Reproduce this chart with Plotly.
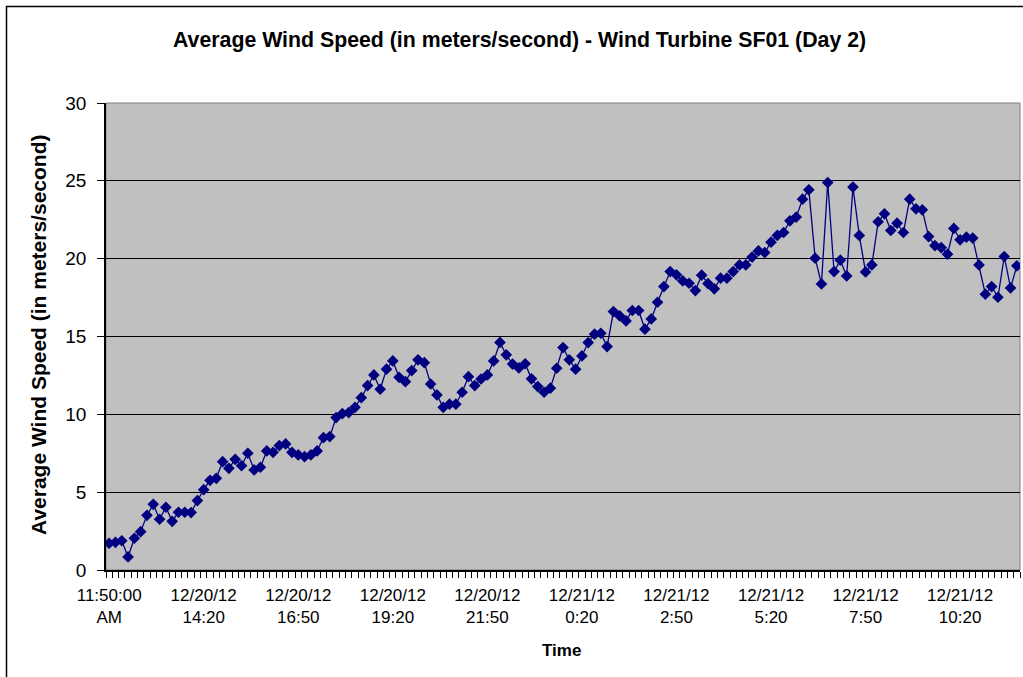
import plotly.graph_objects as go
from datetime import datetime, timedelta

# ---- data ----
start_time = datetime(2012, 12, 20, 11, 50)
n_points = 145
times = [(start_time + timedelta(minutes=10 * i)).strftime("%m/%d/%y %H:%M") for i in range(n_points)]

wind_speed = [
    1.72, 1.78, 1.88, 0.84, 2.04, 2.46, 3.51, 4.22, 3.26, 4.03,
    3.13, 3.71, 3.71, 3.69, 4.46, 5.16, 5.76, 5.89, 6.96, 6.53,
    7.11, 6.70, 7.50, 6.43, 6.60, 7.65, 7.56, 7.99, 8.10, 7.56,
    7.39, 7.28, 7.39, 7.65, 8.50, 8.57, 9.79, 10.05, 10.11, 10.45,
    11.07, 11.85, 12.53, 11.61, 12.90, 13.43, 12.38, 12.10, 12.81, 13.50,
    13.32, 11.95, 11.25, 10.45, 10.65, 10.65, 11.42, 12.42, 11.85, 12.27,
    12.53, 13.43, 14.62, 13.82, 13.23, 12.98, 13.25, 12.28, 11.78, 11.42,
    11.68, 12.96, 14.29, 13.50, 12.90, 13.75, 14.61, 15.15, 15.21, 14.35,
    16.60, 16.32, 16.00, 16.67, 16.67, 15.47, 16.13, 17.20, 18.21, 19.17,
    18.96, 18.57, 18.42, 17.95, 18.94, 18.40, 18.06, 18.75, 18.75, 19.17,
    19.60, 19.60, 20.10, 20.50, 20.39, 21.06, 21.49, 21.68, 22.43, 22.67,
    23.82, 24.42, 20.03, 18.38, 24.89, 19.17, 19.90, 18.89, 24.60, 21.49,
    19.15, 19.60, 22.37, 22.88, 21.81, 22.28, 21.68, 23.82, 23.20, 23.14,
    21.42, 20.84, 20.71, 20.29, 21.94, 21.21, 21.38, 21.32, 19.60, 17.72,
    18.21, 17.52, 20.14, 18.12, 19.54,
]

tick_index = [0, 15, 30, 45, 60, 75, 90, 105, 120, 135]
tick_labels = [
    "11:50:00<br>AM", "12/20/12<br>14:20", "12/20/12<br>16:50", "12/20/12<br>19:20",
    "12/20/12<br>21:50", "12/21/12<br>0:20", "12/21/12<br>2:50", "12/21/12<br>5:20",
    "12/21/12<br>7:50", "12/21/12<br>10:20",
]
y_ticks = [0, 5, 10, 15, 20, 25, 30]

FONT = "Liberation Sans, Arial, sans-serif"
x_idx = list(range(len(wind_speed)))

fig = go.Figure()
fig.add_trace(go.Scatter(
    x=x_idx, y=wind_speed, text=times[:len(wind_speed)],
    mode="lines+markers",
    line=dict(color="#000080", width=1.3),
    marker=dict(symbol="diamond", size=9, color="#000080"),
    hovertemplate="%{text}<br>%{y}<extra></extra>",
))

fig.update_layout(
    width=1023, height=677,
    margin=dict(l=106, r=3, t=103, b=107),
    paper_bgcolor="white",
    plot_bgcolor="#C0C0C0",
    showlegend=False,
    font=dict(family=FONT, color="black"),
)

fig.update_xaxes(
    range=[-0.5, len(wind_speed) - 0.5],
    tickvals=tick_index, ticktext=tick_labels,
    ticks="", tickfont=dict(size=17, family=FONT),
    showgrid=False, zeroline=False,
    showline=True, linecolor="black", linewidth=1.5,
    minor=dict(tick0=-0.5, dtick=1, ticks="outside", ticklen=6, tickcolor="black", tickwidth=1, showgrid=False),
    ticklabelstandoff=9,
)
fig.update_yaxes(
    range=[0, 30], tickvals=y_ticks,
    ticks="outside", ticklen=7, tickcolor="black", tickwidth=1,
    tickfont=dict(size=19, family=FONT),
    showgrid=True, gridcolor="black", gridwidth=1,
    zeroline=False,
    showline=True, linecolor="black", linewidth=1.5,
    ticklabelstandoff=7,
)

# plot area border (gray)
fig.add_shape(type="rect", xref="paper", yref="paper", x0=0, x1=1, y0=0, y1=1,
              line=dict(color="#808080", width=1), layer="below")
# outer chart border
fig.add_shape(type="rect", xref="paper", yref="paper",
              x0=(6.5 - 106) / 914, x1=1.2, y0=-0.4, y1=(570 - 6.5) / 467,
              line=dict(color="black", width=1.5))

fig.add_annotation(text="<b>Average Wind Speed (in meters/second) - Wind Turbine SF01 (Day 2)</b>",
                   xref="paper", yref="paper", x=(519.5 - 106) / 914, y=(570 - 40) / 467,
                   showarrow=False, font=dict(size=21.3, family=FONT), xanchor="center", yanchor="middle")
fig.add_annotation(text="<b>Average Wind Speed (in meters/second)</b>",
                   xref="paper", yref="paper", x=(38 - 106) / 914, y=(570 - 335) / 467, textangle=-90,
                   showarrow=False, font=dict(size=21, family=FONT), xanchor="center", yanchor="middle")
fig.add_annotation(text="<b>Time</b>",
                   xref="paper", yref="paper", x=(561 - 106) / 914, y=(570 - 650) / 467,
                   showarrow=False, font=dict(size=17, family=FONT), xanchor="center", yanchor="middle")

fig.write_html("out.html", config={"displayModeBar": False},
               post_script="document.body.style.margin='0px';document.body.style.overflow='hidden';")
